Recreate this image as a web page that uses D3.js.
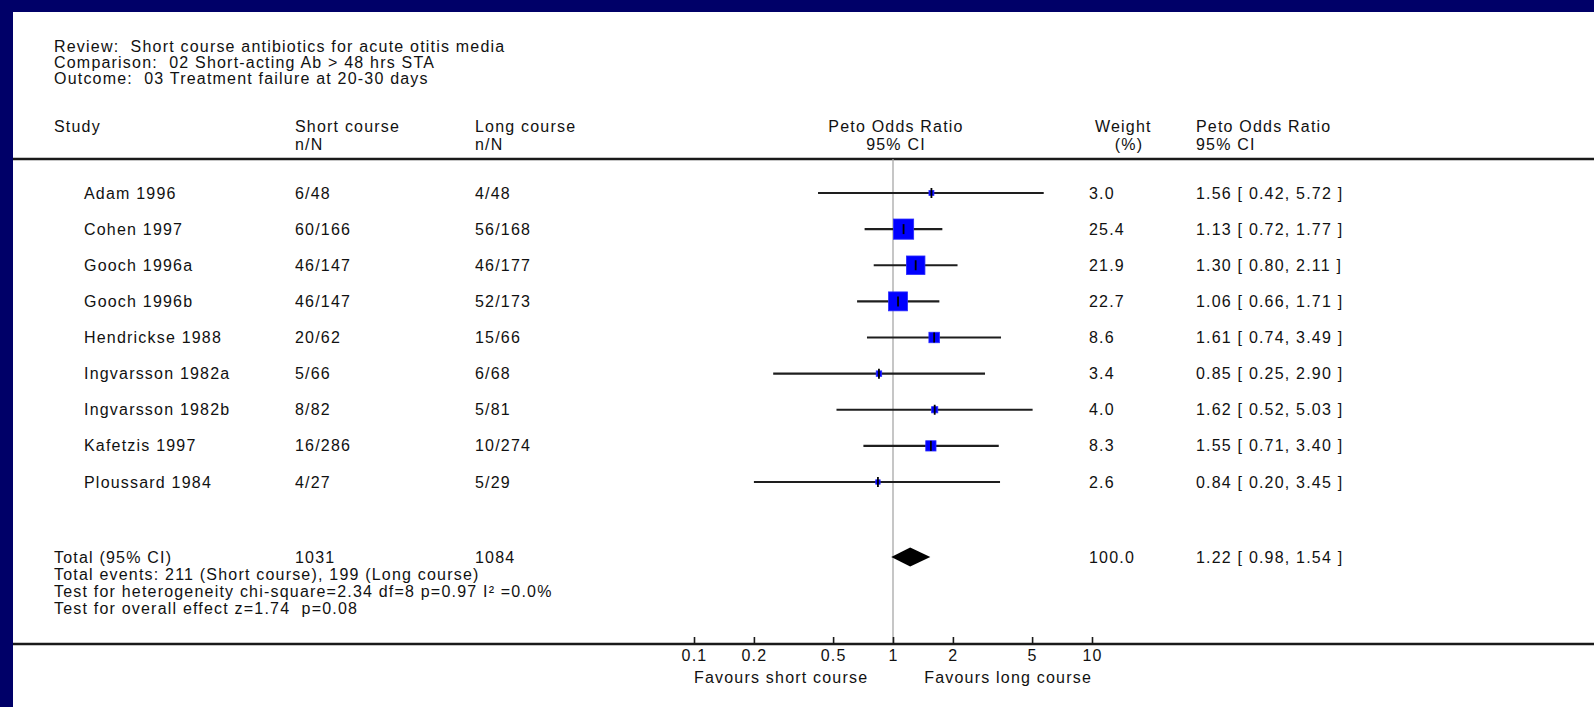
<!DOCTYPE html>
<html>
<head>
<meta charset="utf-8">
<script src="https://cdn.jsdelivr.net/npm/d3@7"></script>
<style>
  html, body { margin: 0; padding: 0; background: #000068; overflow: hidden; }
  svg { display: block; }
  text {
    font-family: "Liberation Sans", Arial, sans-serif;
    font-size: 16px;
    letter-spacing: 1.2px;
    fill: #111111;
    white-space: pre;
  }
</style>
</head>
<body>
<svg id="chart" width="1594" height="707"></svg>
<script>
// ---- Study-level data: Peto odds ratios with 95% CI ----
const studies  = ["Adam 1996", "Cohen 1997", "Gooch 1996a", "Gooch 1996b", "Hendrickse 1988",
                  "Ingvarsson 1982a", "Ingvarsson 1982b", "Kafetzis 1997", "Ploussard 1984"];
const shortArm = ["6/48", "60/166", "46/147", "46/147", "20/62", "5/66", "8/82", "16/286", "4/27"];
const longArm  = ["4/48", "56/168", "46/177", "52/173", "15/66", "6/68", "5/81", "10/274", "5/29"];
const weights  = [3.0, 25.4, 21.9, 22.7, 8.6, 3.4, 4.0, 8.3, 2.6];
const oddsRatio = [1.56, 1.13, 1.30, 1.06, 1.61, 0.85, 1.62, 1.55, 0.84];
const ciLower  = [0.42, 0.72, 0.80, 0.66, 0.74, 0.25, 0.52, 0.71, 0.20];
const ciUpper  = [5.72, 1.77, 2.11, 1.71, 3.49, 2.90, 5.03, 3.40, 3.45];

// ---- Pooled estimate ----
const totalShortN = "1031";
const totalLongN  = "1084";
const totalWeight = 100.0;
const totalOR     = 1.22;
const totalLower  = 0.98;
const totalUpper  = 1.54;

// ---- Text blocks ----
const titleLines = [
  "Review:  Short course antibiotics for acute otitis media",
  "Comparison:  02 Short-acting Ab > 48 hrs STA",
  "Outcome:  03 Treatment failure at 20-30 days"
];
const footerLines = [
  "Total events: 211 (Short course), 199 (Long course)",
  "Test for heterogeneity chi-square=2.34 df=8 p=0.97 I\u00B2 =0.0%",
  "Test for overall effect z=1.74  p=0.08"
];
const tickValues = [0.1, 0.2, 0.5, 1, 2, 5, 10];
const tickLabels = ["0.1", "0.2", "0.5", "1", "2", "5", "10"];

// ---- Layout ----
const W = 1594, H = 707;
const svg = d3.select("#chart");

// navy frame and white page
svg.append("rect").attr("x", 0).attr("y", 0).attr("width", W).attr("height", H).attr("fill", "#000068");
svg.append("rect").attr("x", 13).attr("y", 12).attr("width", W - 13).attr("height", H - 12).attr("fill", "#ffffff");

const x = d3.scaleLog().domain([0.1, 10]).range([694, 1092]);
const y = d3.scalePoint().domain(studies).range([193, 482]);
const markerSide = d3.scaleLinear()
  .domain([Math.sqrt(2.6), Math.sqrt(25.4)])
  .range([4.4, 20.2]);

const col = { study: 84, shortN: 295, longN: 475, weight: 1089, ratio: 1196 };
const fmt2 = d3.format(".2f"), fmt1 = d3.format(".1f");
const ciText = (o, l, u) => `${fmt2(o)} [ ${fmt2(l)}, ${fmt2(u)} ]`;

function label(t, px, py, anchor) {
  return svg.append("text").attr("x", px).attr("y", py).attr("dy", "0.35em")
    .attr("text-anchor", anchor || "start").text(t);
}

// title block
titleLines.forEach((t, i) => label(t, 54, 46 + i * 16.2));

// column headers
const hy1 = 126, hy2 = 144;
label("Study", 54, hy1);
label("Short course", col.shortN, hy1);
label("n/N", col.shortN, hy2);
label("Long course", col.longN, hy1);
label("n/N", col.longN, hy2);
label("Peto Odds Ratio", x(1) + 3, hy1, "middle");
label("95% CI", x(1) + 3, hy2, "middle");
label("Weight", 1095, hy1);
label("(%)", 1129, hy2, "middle");
label("Peto Odds Ratio", col.ratio, hy1);
label("95% CI", col.ratio, hy2);

// horizontal rules
const axisY = 644, headerRuleY = 159;
svg.append("line").attr("x1", 13).attr("x2", W).attr("y1", headerRuleY).attr("y2", headerRuleY)
  .attr("stroke", "#1a1a1a").attr("stroke-width", 2.5);

// line of no effect
svg.append("line").attr("x1", x(1)).attr("x2", x(1)).attr("y1", headerRuleY).attr("y2", axisY)
  .attr("stroke", "#a8a8a8").attr("stroke-width", 1.3);

// study rows
const rows = svg.append("g").selectAll("g").data(studies).join("g")
  .attr("transform", d => `translate(0,${y(d)})`);

rows.append("text").attr("x", col.study).attr("dy", "0.35em").text(d => d);
rows.append("text").attr("x", col.shortN).attr("dy", "0.35em").text((d, i) => shortArm[i]);
rows.append("text").attr("x", col.longN).attr("dy", "0.35em").text((d, i) => longArm[i]);
rows.append("text").attr("x", col.weight).attr("dy", "0.35em").text((d, i) => fmt1(weights[i]));
rows.append("text").attr("x", col.ratio).attr("dy", "0.35em")
  .text((d, i) => ciText(oddsRatio[i], ciLower[i], ciUpper[i]));

// confidence intervals
rows.append("line")
  .attr("x1", (d, i) => x(ciLower[i])).attr("x2", (d, i) => x(ciUpper[i]))
  .attr("stroke", "#1e1e1e").attr("stroke-width", 2.2);

// weighted squares
rows.append("rect")
  .attr("x", (d, i) => x(oddsRatio[i]) - markerSide(Math.sqrt(weights[i])) / 2)
  .attr("y", (d, i) => -markerSide(Math.sqrt(weights[i])) / 2)
  .attr("width", (d, i) => markerSide(Math.sqrt(weights[i])))
  .attr("height", (d, i) => markerSide(Math.sqrt(weights[i])))
  .attr("fill", "#0000ff").attr("stroke", "#2a2aff").attr("stroke-width", 0.8);

// point-estimate ticks
rows.append("line")
  .attr("x1", (d, i) => x(oddsRatio[i])).attr("x2", (d, i) => x(oddsRatio[i]))
  .attr("y1", -5).attr("y2", 5)
  .attr("stroke", "#000").attr("stroke-width", 1.8);

// pooled row
const totalY = 557;
label("Total (95% CI)", 54, totalY);
label(totalShortN, col.shortN, totalY);
label(totalLongN, col.longN, totalY);
label(fmt1(totalWeight), col.weight, totalY);
label(ciText(totalOR, totalLower, totalUpper), col.ratio, totalY);

const dh = 9.5;
svg.append("path")
  .attr("d", `M${x(totalLower)},${totalY} L${x(totalOR)},${totalY - dh} L${x(totalUpper)},${totalY} L${x(totalOR)},${totalY + dh} Z`)
  .attr("fill", "#000");

footerLines.forEach((t, i) => label(t, 54, 574 + i * 17));

// bottom rule and log axis
svg.append("line").attr("x1", 13).attr("x2", W).attr("y1", axisY).attr("y2", axisY)
  .attr("stroke", "#1a1a1a").attr("stroke-width", 2.5);

const axis = d3.axisBottom(x)
  .tickValues(tickValues)
  .tickFormat((d, i) => tickLabels[i])
  .tickSizeInner(-7).tickSizeOuter(0).tickPadding(6);

const ax = svg.append("g").attr("transform", `translate(0,${axisY})`).call(axis);
ax.select(".domain").remove();
ax.selectAll(".tick line").attr("stroke", "#1a1a1a").attr("stroke-width", 1.6);
ax.selectAll(".tick text")
  .attr("font-family", null).attr("font-size", null).attr("fill", null)
  .style("font-family", "\"Liberation Sans\", Arial, sans-serif")
  .style("font-size", "16px").style("fill", "#111111");
ax.attr("font-family", null).attr("font-size", null);

label("Favours short course", x(0.1), 677);
label("Favours long course", x(10), 677, "end");
</script>
</body>
</html>
